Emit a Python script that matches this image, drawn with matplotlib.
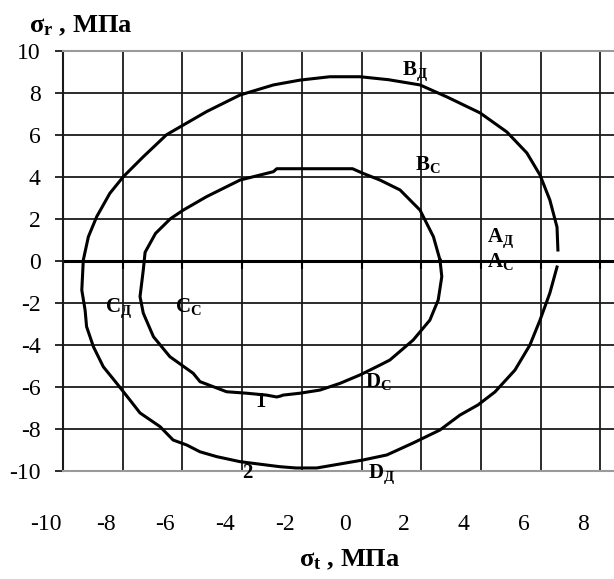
import matplotlib
matplotlib.use("Agg")
import matplotlib.pyplot as plt
from matplotlib.transforms import ScaledTranslation
import matplotlib.lines as mlines

plt.rcParams['mathtext.fontset'] = 'custom'
plt.rcParams['mathtext.rm'] = 'Liberation Serif'
plt.rcParams['mathtext.bf'] = 'Liberation Serif:bold'
plt.rcParams['mathtext.it'] = 'Liberation Serif:italic'
plt.rcParams['font.family'] = ['Liberation Serif', 'DejaVu Serif']

# Curve 2 (Д) : outer ellipse
outer_t = [6.58, 6.55, 6.31, 5.98, 5.54, 4.87, 3.97, 2.86, 1.96, 0.9, -0.05, -1.06,
           -2.06, -2.95, -4.07, -5.19, -5.97, -6.53, -7.31, -7.98, -8.43, -8.87, -9.15,
           -9.32, -9.37, -9.26, -9.21, -8.98, -8.65, -8.20, -7.76, -7.42, -6.75, -6.31,
           -5.85, -5.41, -4.85, -4.07, -3.18, -2.73, -2.2, -1.5, -0.72, 0.05, 0.85, 1.73,
           2.63, 3.30, 3.9, 4.47, 5.14, 5.64, 5.98, 6.31, 6.55]
outer_r = [0.51, 1.60, 2.89, 4.08, 5.13, 6.13, 7.04, 7.80, 8.37, 8.62, 8.76, 8.76,
           8.60, 8.37, 7.89, 7.10, 6.46, 6.0, 4.95, 4.00, 3.21, 2.10, 1.14,
           0.03, -1.40, -2.35, -3.14, -4.10, -5.05, -5.84, -6.63, -7.25, -7.90, -8.54,
           -8.78, -9.10, -9.33, -9.57, -9.73, -9.81, -9.87, -9.87, -9.68, -9.49, -9.25, -8.68,
           -8.06, -7.35, -6.87, -6.25, -5.21, -4.02, -2.83, -1.54, -0.30]

# Curve 1 (C) : inner ellipse
inner_t = [2.63, 2.41, 1.96, 1.29, 0.62, 0.05, -0.3, -2.84, -2.95, -4.07, -5.19, -5.97,
           -6.4, -6.9, -7.25, -7.31, -7.42, -7.31, -6.97, -6.42, -5.64, -5.41, -4.52,
           -3.85, -3.18, -2.84, -2.7, -2.63, -2.06, -1.39, -0.72, -0.05, 0.62, 0.95,
           1.73, 2.29, 2.57, 2.69, 2.63]
inner_r = [0.03, 1.14, 2.41, 3.37, 3.84, 4.16, 4.38, 4.38, 4.24, 3.84, 3.05, 2.41,
           2.0, 1.3, 0.4, -0.44, -1.71, -2.50, -3.62, -4.57, -5.36, -5.76, -6.24,
           -6.31, -6.40, -6.49, -6.44, -6.40, -6.31, -6.16, -5.84, -5.44, -4.97, -4.73,
           -3.78, -2.83, -1.87, -0.76, 0.03]

xticks = [-10, -8, -6, -4, -2, 0, 2, 4, 6, 8]
yticks = [-10, -8, -6, -4, -2, 0, 2, 4, 6, 8, 10]

# point labels: (main, sub, sigma_t, sigma_r)
point_labels = [
    ('B', 'Д', 1.36, 8.84),
    ('B', 'C', 1.79, 4.32),
    ('A', 'Д', 4.20, 0.89),
    ('A', 'C', 4.20, -0.30),
    ('C', 'Д', -8.59, -2.44),
    ('C', 'C', -6.25, -2.44),
    ('D', 'C', 0.12, -6.01),
    ('D', 'Д', 0.22, -10.35),
]
curve_labels = [('1', -3.57, -6.97), ('2', -4.0, -10.35)]

W, H = 614, 579
fig = plt.figure(figsize=(W / 100, H / 100), dpi=100)
ax = fig.add_axes([63 / W, 1 - 470.7 / H, (W - 63) / W, 420 / H])

ax.set_xlim(-10, -10 + (W - 63) / 29.85)
ax.set_ylim(-10, 10)
ax.set_xticks(xticks)
ax.set_yticks(yticks)
ax.set_xticklabels([str(v) for v in xticks])
ax.set_yticklabels([str(v) for v in yticks])
ax.grid(True, color='#1a1a1a', lw=1.3)
ax.set_axisbelow(True)

ax.spines['right'].set_visible(False)
ax.spines['top'].set_color('#9a9a9a')
ax.spines['bottom'].set_color('#9a9a9a')
ax.spines['left'].set_color('#1a1a1a')
for s in ['top', 'bottom', 'left']:
    ax.spines[s].set_linewidth(1.5)
    ax.spines[s].set_zorder(3)

ax.tick_params(axis='x', length=0, pad=31, labelsize=17)
ax.tick_params(axis='y', length=6, width=1.3, color='#1a1a1a', pad=10, labelsize=17)
off = ScaledTranslation(-17 / 100, 0, fig.dpi_scale_trans)
for lab in ax.get_xticklabels():
    lab.set_transform(lab.get_transform() + off)

# x axis line at sigma_r = 0 with tick marks
ax.axhline(0, color='black', lw=2.2, zorder=2)
ax.plot(xticks, [0] * len(xticks), ls='none', marker=mlines.TICKDOWN,
        ms=6, mew=1.5, color='black', zorder=2)

ax.plot(outer_t, outer_r, color='black', lw=2.2, zorder=4)
ax.plot(inner_t, inner_r, color='black', lw=2.2, zorder=4)

for main, sub, x, y in point_labels:
    ax.text(x, y, r'$\mathbf{%s}_{\mathbf{%s}}$' % (main, sub), fontsize=15,
            ha='left', va='baseline', zorder=5, clip_on=False)
for t, x, y in curve_labels:
    ax.text(x, y, t, fontsize=15, fontweight='bold', ha='left', va='baseline',
            zorder=5, clip_on=False)

fig.text(29 / W, 1 - 32 / H, r'$\mathbf{σ}_{\mathbf{r}}$' + ' , МПа', fontsize=19,
         fontweight='bold', ha='left', va='baseline')
fig.text(350 / W, 1 - 566 / H, r'$\mathbf{σ}_{\mathbf{t}}$' + ' , МПа', fontsize=19,
         fontweight='bold', ha='center', va='baseline')

fig.savefig('out.png', dpi=100)
